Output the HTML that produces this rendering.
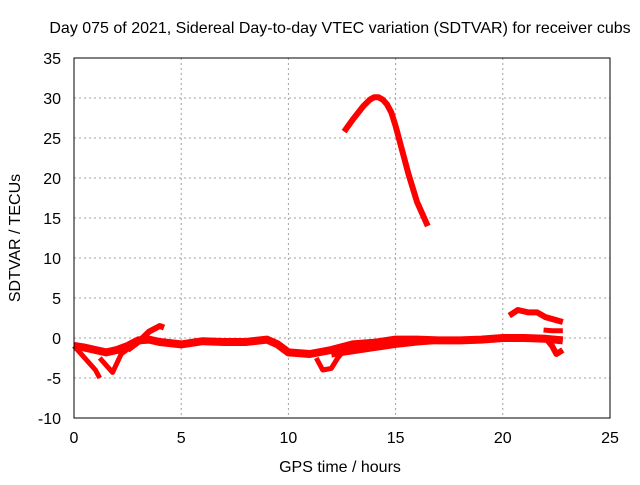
<!DOCTYPE html>
<html><head><meta charset="utf-8"><style>
body{margin:0;background:#fff}
svg text{font-family:"Liberation Sans",sans-serif;font-size:16px;fill:#000}
</style></head><body>
<svg id="c" width="640" height="480">
<text x="340" y="33" text-anchor="middle">Day 075 of 2021, Sidereal Day-to-day VTEC variation (SDTVAR) for receiver cubs</text>
<text x="340" y="472" text-anchor="middle">GPS time / hours</text>
<text transform="translate(20,238) rotate(-90)" text-anchor="middle">SDTVAR / TECUs</text>
<g id="grid"></g><g id="series"></g>
<rect x="74" y="58" width="536" height="360" fill="none" stroke="#000" stroke-width="1"/>
</svg>
<script>
const xTicks=[0,5,10,15,20,25];
const yTicks=[-10,-5,0,5,10,15,20,25,30,35];
const mainX=[0,0.5,1,1.5,2,2.5,3,3.5,4,5,6,7,8,9,9.5,10,11,12,13,14,15,16,17,18,19,20,21,22,22.8];
const mainY=[-1,-1.2,-1.5,-1.8,-1.5,-1,-0.3,-0.2,-0.5,-0.8,-0.4,-0.5,-0.5,-0.2,-0.8,-1.8,-2,-1.5,-0.8,-0.6,-0.2,-0.2,-0.3,-0.3,-0.2,0,0,-0.1,-0.3];
const band2X=[12,13,14,15,16,17];
const band2Y=[-2,-1.6,-1.2,-0.8,-0.5,-0.3];
const upX=[2.5,3,3.5,4,4.2];
const upY=[-1.5,-0.5,0.8,1.5,1.3];
const low1X=[0,0.5,1,1.2];
const low1Y=[-1,-2.5,-4,-5];
const low2X=[1.2,1.8,2.2,2.6];
const low2Y=[-2.5,-4.3,-2,-1.2];
const low3X=[11.3,11.6,12,12.3,12.6];
const low3Y=[-2.5,-4,-3.8,-2.5,-1.5];
const spikeX=[12.6,13,13.5,13.8,14,14.2,14.4,14.6,14.8,15,15.2,15.6,16,16.5];
const spikeY=[25.8,27.3,29,29.8,30.1,30.1,29.8,29.2,28.2,26.5,24.5,20.5,17,14];
const hiX=[20.3,20.7,21.2,21.6,22,22.8];
const hiY=[2.8,3.5,3.2,3.2,2.6,2];
const midX=[21.9,22.3,22.8];
const midY=[1,0.9,0.9];
const hookX=[22,22.3,22.5,22.8];
const hookY=[0,-1,-2,-1.5];
const sx=v=>74+v*(536/25), sy=v=>338-v*8;
const ns="http://www.w3.org/2000/svg";
const g=document.getElementById('grid'), s=document.getElementById('series'), svg=document.getElementById('c');
xTicks.forEach(t=>{
 const x=sx(t);
 if(t>0&&t<25){const l=document.createElementNS(ns,'line');l.setAttribute('x1',x);l.setAttribute('x2',x);l.setAttribute('y1',58);l.setAttribute('y2',418);l.setAttribute('stroke','#a0a0a0');l.setAttribute('stroke-dasharray','2,3');
 
 g.appendChild(l);}
 const tx=document.createElementNS(ns,'text');tx.setAttribute('x',x);tx.setAttribute('y',443);tx.setAttribute('text-anchor','middle');tx.textContent=t;
 
 svg.appendChild(tx);
});
yTicks.forEach(t=>{
 const y=sy(t);
 if(t>-10&&t<35){const l=document.createElementNS(ns,'line');l.setAttribute('x1',74);l.setAttribute('x2',610);l.setAttribute('y1',y);l.setAttribute('y2',y);l.setAttribute('stroke','#a0a0a0');l.setAttribute('stroke-dasharray','2,3');
 
 g.appendChild(l);}
 const tx=document.createElementNS(ns,'text');tx.setAttribute('x',61);tx.setAttribute('y',y+6);tx.setAttribute('text-anchor','end');tx.textContent=t;
 
 svg.appendChild(tx);
});
[[mainX,mainY,8],[band2X,band2Y,7],[upX,upY,6],[low1X,low1Y,5],[low2X,low2Y,5],[low3X,low3Y,5],[spikeX,spikeY,6],[hiX,hiY,6],[midX,midY,5],[hookX,hookY,6]].forEach(([xs,ys,w])=>{
 const p=document.createElementNS(ns,'polyline');
 p.setAttribute('points',xs.map((x,i)=>sx(x)+','+sy(ys[i])).join(' '));
 p.setAttribute('fill','none');p.setAttribute('stroke','#ff0000');p.setAttribute('stroke-width',w);p.setAttribute('stroke-linejoin','round');
 
 
 s.appendChild(p);
});
</script>
</body></html>
